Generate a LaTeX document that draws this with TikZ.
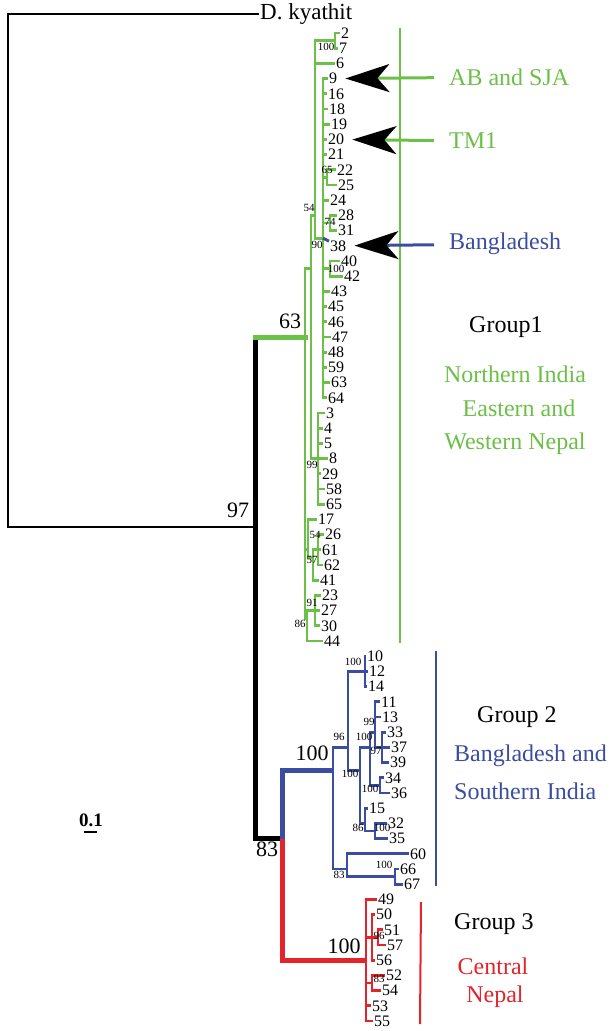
\documentclass[tikz,border=0pt]{standalone}
\usepackage{fontspec}
\setmainfont{Liberation Serif}
\usepackage{tikz}
\usetikzlibrary{arrows.meta, calc}
\definecolor{cG}{HTML}{6CBF47}
\definecolor{cB}{HTML}{3B4DA0}
\definecolor{cR}{HTML}{E5232A}
\tikzset{
  leaf/.style={anchor=west, inner sep=1pt, font=\fontsize{16}{16}\selectfont},
  bs/.style={inner sep=0pt, font=\fontsize{11}{11}\selectfont},
  bsl/.style={inner sep=0pt, font=\fontsize{22}{22}\selectfont},
  grp/.style={inner sep=0pt, font=\fontsize{24}{24}\selectfont},
  kbr/.style={draw=black, line width=1.5pt},
  gbr/.style={draw=cG, line width=2.9pt},
  bbr/.style={draw=cB, line width=2.9pt},
  rbr/.style={draw=cR, line width=2.9pt},
  thk/.style={line width=5pt, line cap=rect},
  ptr/.style={-{Stealth[length=44pt, width=28pt, inset=12pt, color=black]},
              line width=3pt, shorten <=15pt, shorten >=7pt},
}

\begin{document}
\begin{tikzpicture}[x=1pt, y=-1pt]
  \useasboundingbox (0,0) rectangle (611,1031);

  %% tree: x in px, y in leaf rows
  \begin{scope}[shift={(0,33)}, y=-15.2pt]

    % leaves
    \foreach \k/\t/\lx in {0/2/341, 1/7/339, 2/6/336, 3/9/329, 4/16/328, 5/18/329,
        6/19/331, 7/20/328, 8/21/328, 9/22/337, 10/25/338, 11/24/330, 12/28/338,
        13/31/338, 14/38/330, 15/40/341, 16/42/344, 17/43/331, 18/45/328, 19/46/328,
        20/47/332, 21/48/328, 22/59/328, 23/63/331, 24/64/328, 25/3/326, 26/4/324,
        27/5/324, 28/8/329, 29/29/322, 30/58/326, 31/65/326, 32/17/318, 33/26/325,
        34/61/322, 35/62/324, 36/41/320, 37/23/322, 38/27/321, 39/30/321, 40/44/324,
        41/10/367, 42/12/369, 43/14/368, 44/11/381, 45/13/382, 46/33/387, 47/37/391,
        48/39/390, 49/34/385, 50/36/391, 51/15/369, 52/32/388, 53/35/389, 54/60/410,
        55/66/400, 56/67/404, 57/49/378, 58/50/376, 59/51/384, 60/57/387, 61/56/376,
        62/52/386, 63/54/382, 64/53/372, 65/55/374}{
      \node[leaf] (l\t) at (\lx-1,\k) {\t};
    }
    \node[anchor=west, inner sep=1pt, font=\fontsize{23}{23}\selectfont] (dk) at (259,-1.25) {D. kyathit};

    % internal nodes
    \coordinate (root) at (8,15.65);
    \coordinate (n97) at (255,32.5);
    \coordinate (n63) at (305,20);
    \coordinate (n83) at (282,53);
    % group 1
    \coordinate (n27) at (335,0.5);
    \coordinate (nA) at (315,12);
    \coordinate (nB) at (323,13.5);
    \coordinate (n65) at (327,9.5);
    \coordinate (n74) at (330,12.5);
    \coordinate (nG) at (330,15.5);
    \coordinate (nC) at (311,15.5);
    \coordinate (n99) at (318,28);
    \coordinate (nD) at (308,34);
    \coordinate (n57) at (313,34.5);
    \coordinate (n54) at (318,34);
    \coordinate (n86) at (307,38.5);
    \coordinate (n91) at (315,38);
    % group 2
    \coordinate (nBl) at (333,48.5);
    \coordinate (n96) at (348,47);
    \coordinate (nP) at (365,42);
    \coordinate (nX) at (360,48.5);
    \coordinate (nY) at (370,47);
    \coordinate (nW) at (375,46);
    \coordinate (nU) at (382,47);
    \coordinate (nV) at (380,49.5);
    \coordinate (nZ) at (365,52);
    \coordinate (nQ) at (375,52.5);
    \coordinate (n83b) at (347,55);
    \coordinate (nE) at (395,55.5);
    % group 3
    \coordinate (nRed) at (366,61);
    \coordinate (nR1) at (372,59.5);
    \coordinate (nR2) at (378,59.5);
    \coordinate (nR3) at (372,62.5);

    % branches
    \foreach \p/\c in {n27/l2, n27/l7, nA/n27, nA/l6, nA/nB, nB/l9, nB/l16, nB/l18,
        nB/l19, nB/l20, nB/l21, nB/n65, n65/l22, n65/l25, nB/l24, nB/n74, n74/l28,
        n74/l31, nB/nG, nG/l40, nG/l42, nB/l43, nB/l45, nB/l46, nB/l47, nB/l48,
        nB/l59, nB/l63, nB/l64, nC/nA, nC/n99, n99/l3, n99/l4, n99/l5, n99/l8,
        n99/l29, n99/l58, n99/l65, n63/nC, n63/nD, nD/l17, nD/n57, n57/n54,
        n57/l41, n54/l26, n54/l61, n54/l62, n63/n86, n86/n91, n86/l44, n91/l23,
        n91/l27, n91/l30}{
      \draw[gbr] (\p) |- (\c);
    }
    \draw[bbr] (nB) -- (l38);
    \foreach \p/\c in {nBl/n96, nBl/n83b, n96/nP, n96/nX, nP/l10, nP/l12, nP/l14,
        nX/nY, nX/nZ, nY/nW, nY/nV, nW/l11, nW/l13, nW/nU, nU/l33, nU/l37, nU/l39,
        nV/l34, nV/l36, nZ/l15, nZ/nQ, nQ/l32, nQ/l35, n83b/l60, n83b/nE, nE/l66,
        nE/l67}{
      \draw[bbr] (\p) |- (\c);
    }
    \foreach \p/\c in {nRed/l49, nRed/nR1, nRed/nR3, nRed/l53, nRed/l55, nR1/l50,
        nR1/nR2, nR1/l56, nR2/l51, nR2/l57, nR3/l52, nR3/l54}{
      \draw[rbr] (\p) |- (\c);
    }

    % backbone
    \draw[kbr] (root) |- (dk.west);
    \draw[kbr] (root) |- (n97);
    \draw[kbr, thk] (n97 |- n63) -- (n97 |- n83);
    \draw[gbr, thk] (n97 |- n63) -- (n63);
    \draw[kbr, thk] (n97 |- n83) -- (n83);
    \draw[bbr, thk, line cap=butt] (n83) |- (nBl);
    \draw[rbr, thk, line cap=butt] (n83) |- (nRed);

    % support values
    \node[bsl] (b97) at (238,31.4) {97};
    \node[bsl] (b63) at (290,19.0) {63};
    \node[bsl] (b83) at (267,53.7) {83};
    \node[bsl] (bBl) at (312,47.4) {100};
    \node[bsl] (bRed) at (344,60.1) {100};
    \node[bs] (s27) at (326,0.92) {100};
    \node[bs] (sA) at (309,11.5) {54};
    \node[bs] (s65) at (327,9.0) {65};
    \node[bs] (s74) at (330,12.4) {74};
    \node[bs] (sB) at (317,13.96) {90};
    \node[bs] (sG) at (336,15.5) {100};
    \node[bs] (s99) at (312,28.4) {99};
    \node[bs] (s54) at (315,33.0) {54};
    \node[bs] (s57) at (312,34.67) {57};
    \node[bs] (s91) at (312,37.5) {91};
    \node[bs] (s86) at (300,38.86) {86};
    \node[bs] (sP) at (353,41.4) {100};
    \node[bs] (s96) at (339,46.3) {96};
    \node[bs] (sY) at (364,46.3) {100};
    \node[bs] (sW) at (369,45.35) {99};
    \node[bs] (sU) at (376,47.25) {97};
    \node[bs] (sX) at (350,48.75) {100};
    \node[bs] (sV) at (370,49.74) {100};
    \node[bs] (sZ) at (358,52.3) {86};
    \node[bs] (sQ) at (382,52.3) {100};
    \node[bs] (s83b) at (339,55.4) {83};
    \node[bs] (sE) at (384,54.7) {100};
    \node[bs] (sR2) at (379,59.4) {96};
    \node[bs] (sR3) at (379,62.25) {83};
  \end{scope}

  %% group bars
  \draw[cG, line width=2.5pt] (400,28) -- (400,643);
  \draw[cB, line width=2.5pt] (436,651) -- (436,886);
  \draw[cR, line width=2pt] (421,902) -- (420,1024);

  %% labels
  \node[grp, cG, anchor=west] (ab) at (449,77) {AB and SJA};
  \node[grp, cG, anchor=west] (tm) at (449,141) {TM1};
  \node[grp, cB, anchor=west] (bd) at (449,244) {Bangladesh};
  \node[grp, anchor=west] (g1) at (469,327) {Group1};
  \node[grp, cG] (ni) at (515,374) {Northern India};
  \node[grp, cG] (ea) at (519,408) {Eastern and};
  \node[grp, cG] (wn) at (515,444) {Western Nepal};
  \node[grp, anchor=west] (g2) at (477,717) {Group 2};
  \node[grp, cB, anchor=west] (bsi) at (454,756) {Bangladesh and};
  \node[grp, cB, anchor=west] (si) at (454,791) {Southern India};
  \node[grp, anchor=west] (g3) at (454,924) {Group 3};
  \node[grp, cR] (ce) at (493,966) {Central};
  \node[grp, cR] (ne) at (495,997) {Nepal};

  %% pointers
  \draw[ptr, cG] (ab) -- (l9);
  \draw[ptr, cG] (tm) -- (l20);
  \draw[ptr, cB] (bd) -- (l38);

  %% scale
  \node[font=\fontsize{19}{19}\selectfont\bfseries, inner sep=0pt] (sc) at (91,820) {0.1};
  \draw[line width=1.6pt] (84,832) -- (97,832);

\end{tikzpicture}
\end{document}
